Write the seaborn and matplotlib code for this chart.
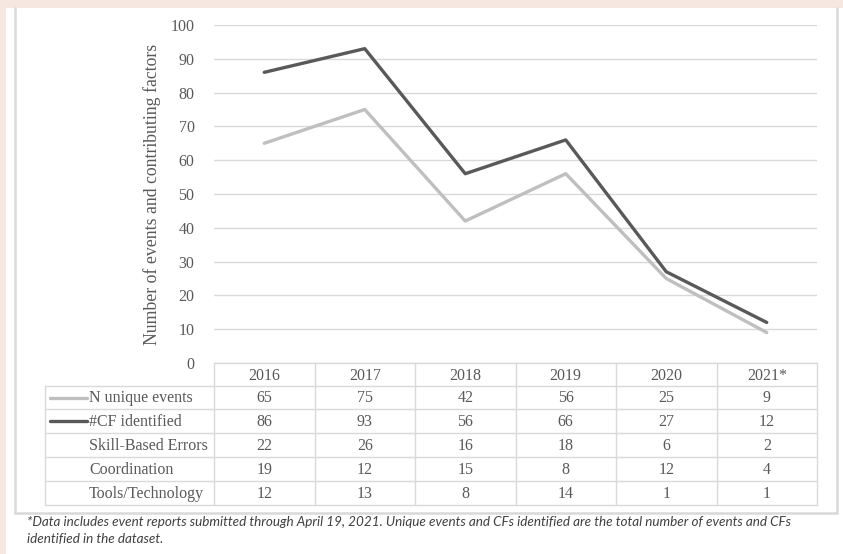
import pandas as pd
import seaborn as sns
import matplotlib.pyplot as plt
from matplotlib.patches import Rectangle

# Data
years = ['2016', '2017', '2018', '2019', '2020', '2021*']
n_unique = [65, 75, 42, 56, 25, 9]
cf_identified = [86, 93, 56, 66, 27, 12]
skill_based = [22, 26, 16, 18, 6, 2]
coordination = [19, 12, 15, 8, 12, 4]
tools_tech = [12, 13, 8, 14, 1, 1]

row_labels = ['N unique events', '#CF identified', 'Skill-Based Errors',
              'Coordination', 'Tools/Technology']
row_values = [n_unique, cf_identified, skill_based, coordination, tools_tech]
line_colors = {'N unique events': '#bfbfbf', '#CF identified': '#595959'}

footnote = ('*Data includes event reports submitted through April 19, 2021. '
            'Unique events and CFs identified are the total number of events and CFs\n'
            'identified in the dataset.')

sns.set_theme(style='white')
plt.rcParams['font.family'] = ['Liberation Serif', 'DejaVu Serif']
text_col = '#595959'
grid_col = '#d9d9d9'

W, H = 843, 554
fig = plt.figure(figsize=(W / 100, H / 100), dpi=100)
fig.patch.set_facecolor('white')

# pixel-coordinate canvas for frame, table and footnote
bg = fig.add_axes([0, 0, 1, 1])
bg.set_xlim(0, W)
bg.set_ylim(H, 0)
bg.axis('off')
bg.add_patch(Rectangle((0, 0), W, 8, color='#f6e7e1', lw=0))
bg.add_patch(Rectangle((0, 0), 6, H, color='#f6e7e1', lw=0))
bg.plot([15, 15], [8, 513], color=grid_col, lw=1.8)
bg.plot([837, 837], [8, 513], color=grid_col, lw=1.8)
bg.plot([15, 837], [513, 513], color=grid_col, lw=1.8)

# main line chart
x0, x1, ytop, ybot = 214, 817, 25, 363
ax = fig.add_axes([x0 / W, 1 - ybot / H, (x1 - x0) / W, (ybot - ytop) / H])
ax.patch.set_alpha(0)

df = pd.DataFrame({
    'pos': list(range(len(years))) * 2,
    'value': n_unique + cf_identified,
    'series': ['N unique events'] * len(years) + ['#CF identified'] * len(years),
})
sns.lineplot(data=df, x='pos', y='value', hue='series', palette=line_colors,
             linewidth=2.4, legend=False, ax=ax)

ax.set_xlim(-0.5, len(years) - 0.5)
ax.set_ylim(0, 100)
ax.set_yticks(range(0, 101, 10))
ax.set_xticks([])
ax.set_xlabel('')
ax.set_ylabel('Number of events and contributing factors', fontsize=12.8,
              color=text_col, labelpad=7)
ax.tick_params(axis='y', length=0, pad=14, labelsize=11.5, labelcolor=text_col)
ax.grid(axis='y', color=grid_col, lw=1)
for s in ax.spines.values():
    s.set_visible(False)

# data table under the chart
ncol = len(years)
cw = (x1 - x0) / ncol
col_edges = [x0 + i * cw for i in range(ncol + 1)]
row_edges = [363, 386, 409, 433, 457, 481, 505]
lab_left = 45

bg.plot([x0, x1], [row_edges[0], row_edges[0]], color=grid_col, lw=1)
for y in row_edges[1:]:
    bg.plot([lab_left, x1], [y, y], color=grid_col, lw=1)
for x in col_edges:
    bg.plot([x, x], [row_edges[0], row_edges[-1]], color=grid_col, lw=1)
bg.plot([lab_left, lab_left], [row_edges[1], row_edges[-1]], color=grid_col, lw=1)

tfs = 11.5
for i, yr in enumerate(years):
    bg.text(col_edges[i] + cw / 2, (row_edges[0] + row_edges[1]) / 2 + 1, yr,
            ha='center', va='center', fontsize=tfs, color=text_col)

for r, (lab, vals) in enumerate(zip(row_labels, row_values)):
    yc = (row_edges[r + 1] + row_edges[r + 2]) / 2 + 1
    bg.text(89, yc, lab, ha='left', va='center', fontsize=tfs, color=text_col)
    if lab in line_colors:
        bg.plot([50, 87], [yc - 1, yc - 1], color=line_colors[lab], lw=2.4)
    for i, v in enumerate(vals):
        bg.text(col_edges[i] + cw / 2, yc, str(v), ha='center', va='center',
                fontsize=tfs, color=text_col)

bg.text(27, 516, footnote, ha='left', va='top', fontsize=9.7, style='italic',
        family=['Lato', 'DejaVu Sans'], color='#404040', linespacing=1.45)

fig.savefig('out.png', dpi=100, facecolor='white')
